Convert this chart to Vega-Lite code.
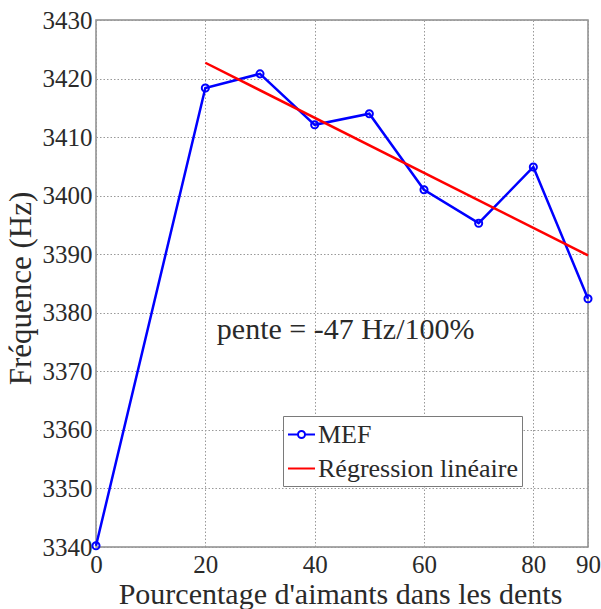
{
  "$schema": "https://vega.github.io/schema/vega-lite/v6.json",
  "width": 492,
  "height": 527,
  "autosize": {"type": "none"},
  "padding": {"left": 96, "top": 20, "right": 13, "bottom": 62},
  "background": "white",
  "config": {
    "view": {"stroke": "#8c8c8c", "strokeWidth": 1.5},
    "font": "Liberation Serif",
    "axis": {
      "labelFont": "Liberation Serif",
      "titleFont": "Liberation Serif",
      "labelColor": "#2a2a2a",
      "titleColor": "#2a2a2a",
      "titleFontWeight": "normal",
      "domain": false,
      "ticks": false,
      "gridColor": "#999999",
      "gridDash": [1.5, 2],
      "gridWidth": 1
    }
  },
  "data": {
    "values": [
      {"x": 0, "y": 3340.2, "serie": "MEF"},
      {"x": 20, "y": 3418.4, "serie": "MEF"},
      {"x": 30, "y": 3420.8, "serie": "MEF"},
      {"x": 40, "y": 3412.1, "serie": "MEF"},
      {"x": 50, "y": 3414.0, "serie": "MEF"},
      {"x": 60, "y": 3401.0, "serie": "MEF"},
      {"x": 70, "y": 3395.3, "serie": "MEF"},
      {"x": 80, "y": 3404.9, "serie": "MEF"},
      {"x": 90, "y": 3382.4, "serie": "MEF"},
      {"x": 20, "y": 3422.7, "serie": "Régression linéaire"},
      {"x": 90, "y": 3389.8, "serie": "Régression linéaire"}
    ]
  },
  "layer": [
    {
      "mark": {"type": "line", "strokeWidth": 2.5, "clip": false},
      "encoding": {
        "x": {
          "field": "x", "type": "quantitative",
          "scale": {"domain": [0, 90], "nice": false},
          "axis": {
            "values": [0, 20, 40, 60, 80, 90],
            "format": "d",
            "labelFont": "Liberation Serif",
            "labelFontSize": 25,
            "labelPadding": 5,
            "labelFlush": false,
            "labelOverlap": false,
            "title": "Pourcentage d'aimants dans les dents",
            "titleFont": "Liberation Serif",
            "titleFontSize": 30,
            "titleX": 244,
            "titleY": 56,
            "titleBaseline": "alphabetic"
          }
        },
        "y": {
          "field": "y", "type": "quantitative",
          "scale": {"domain": [3340, 3430], "nice": false, "zero": false},
          "axis": {
            "values": [3340, 3350, 3360, 3370, 3380, 3390, 3400, 3410, 3420, 3430],
            "format": "d",
            "labelFont": "Liberation Serif",
            "labelFontSize": 25,
            "labelPadding": 4,
            "labelFlush": false,
            "labelOverlap": false,
            "title": "Fréquence (Hz)",
            "titleFont": "Liberation Serif",
            "titleFontSize": 31,
            "titleX": -75,
            "titleY": 268,
            "titleBaseline": "middle"
          }
        },
        "color": {
          "field": "serie", "type": "nominal",
          "scale": {"domain": ["MEF", "Régression linéaire"], "range": ["#0000ff", "#ff0000"]},
          "legend": {
            "title": null,
            "orient": "none",
            "legendX": 187,
            "legendY": 396,
            "direction": "vertical",
            "fillColor": "white",
            "strokeColor": "#7a7a7a",
            "padding": 4,
            "rowPadding": 6,
            "symbolSize": 729,
            "symbolStrokeWidth": 2,
            "labelFont": "Liberation Serif",
            "labelFontSize": 26,
            "labelColor": "#2a2a2a",
            "labelOffset": 2,
            "labelLimit": 400,
            "encode": {
              "symbols": {
                "update": {
                  "shape": {"signal": "datum.value === 'MEF' ? 'M-1,0H-0.26M0.26,0H1M-0.26,0A0.26,0.26 0 1,1 0.26,0A0.26,0.26 0 1,1 -0.26,0' : 'M-1,0H1'"},
                  "fill": {"value": "transparent"}
                }
              }
            }
          }
        }
      }
    },
    {
      "transform": [{"filter": "datum.serie === 'MEF'"}],
      "mark": {"type": "point", "shape": "circle", "filled": false, "color": "#0000ff", "size": 50, "strokeWidth": 2, "opacity": 1, "clip": false},
      "encoding": {
        "x": {"field": "x", "type": "quantitative"},
        "y": {"field": "y", "type": "quantitative"}
      }
    },
    {
      "data": {"values": [{"x": 22.1, "y": 3377, "t": "pente = -47 Hz/100%"}]},
      "mark": {"type": "text", "align": "left", "baseline": "middle", "font": "Liberation Serif", "fontSize": 30, "color": "#2a2a2a"},
      "encoding": {
        "x": {"field": "x", "type": "quantitative"},
        "y": {"field": "y", "type": "quantitative"},
        "text": {"field": "t"}
      }
    }
  ]
}
